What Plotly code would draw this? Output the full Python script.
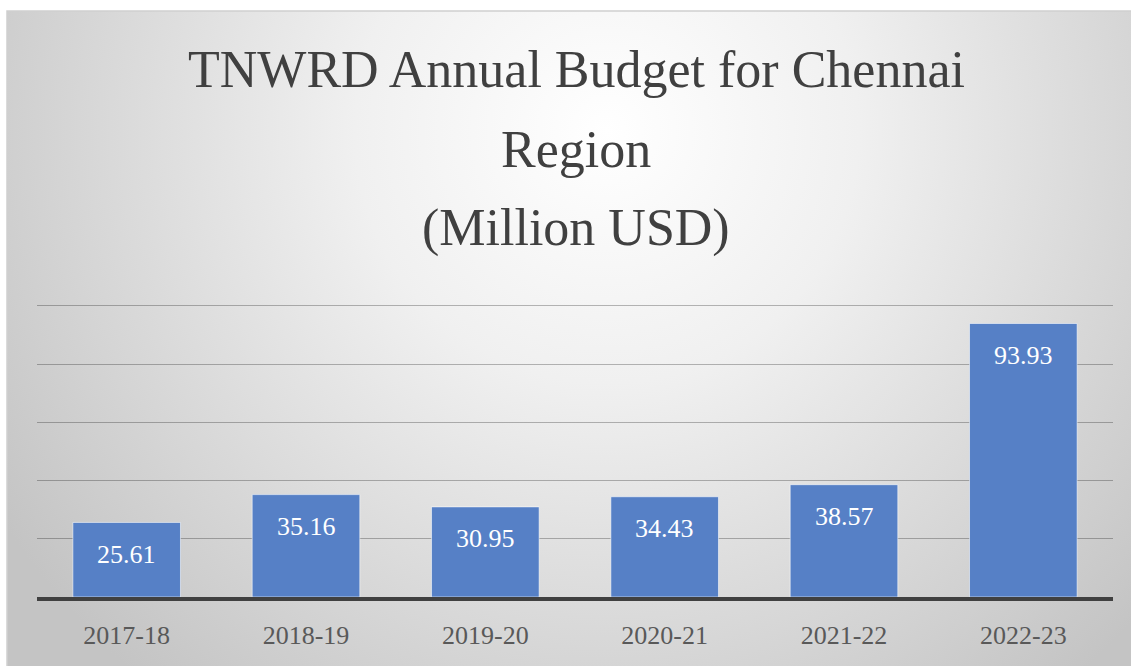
import base64
import plotly.graph_objects as go

# ---- data ----
years = ["2017-18", "2018-19", "2019-20", "2020-21", "2021-22", "2022-23"]
budget_musd = [25.61, 35.16, 30.95, 34.43, 38.57, 93.93]
title_lines = ["TNWRD Annual Budget for Chennai", "Region", "(Million USD)"]

# ---- layout geometry (pixels) ----
W, H = 1131, 666
L, R, T, B = 37, 18, 300, 69
pw, ph = W - L - R, H - T - B
YMAX = 102


def px_y(py):
    return (H - B - py) / ph


def px_x(px):
    return (px - L) / pw


# radial gradient background for the chart box
box_x0, box_y0 = 7, 11
box_w, box_h = W - box_x0, H - box_y0
svg = (
    f"<svg xmlns='http://www.w3.org/2000/svg' width='{box_w}' height='{box_h}'>"
    "<defs><radialGradient id='g' gradientUnits='userSpaceOnUse' "
    "cx='600' cy='120' r='720'>"
    "<stop offset='0' stop-color='#ffffff'/>"
    "<stop offset='0.35' stop-color='#f0f0f0'/>"
    "<stop offset='1' stop-color='#c4c4c4'/>"
    "</radialGradient></defs>"
    f"<rect x='0' y='0' width='{box_w}' height='{box_h}' fill='url(#g)'/>"
    "</svg>"
)
svg_uri = "data:image/svg+xml;base64," + base64.b64encode(svg.encode()).decode()

serif = "Liberation Serif"

fig = go.Figure()
fig.add_trace(
    go.Bar(
        x=years,
        y=budget_musd,
        marker=dict(color="#5680C6", line=dict(color="rgba(255,255,255,0.55)", width=1)),
        hoverinfo="x+y",
    )
)

annotations = []
# data labels (inside end)
for yr, v in zip(years, budget_musd):
    annotations.append(
        dict(
            x=yr, y=v, xref="x", yref="y",
            text=f"{v:.2f}", showarrow=False,
            yanchor="middle", yshift=-32,
            font=dict(family=serif, size=26, color="white"),
        )
    )
# title lines
title_y_px = [69, 149, 228]
for txt, py in zip(title_lines, title_y_px):
    annotations.append(
        dict(
            x=px_x(576), y=px_y(py), xref="paper", yref="paper",
            text=txt, showarrow=False, xanchor="center", yanchor="middle",
            font=dict(family=serif, size=52, color="#404040"),
        )
    )

fig.update_layout(
    width=W, height=H,
    margin=dict(l=L, r=R, t=T, b=B, autoexpand=False),
    paper_bgcolor="white",
    plot_bgcolor="rgba(0,0,0,0)",
    bargap=0.4,
    showlegend=False,
    annotations=annotations,
    images=[
        dict(
            source=svg_uri, xref="paper", yref="paper",
            x=px_x(box_x0), y=px_y(box_y0),
            sizex=box_w / pw, sizey=box_h / ph,
            xanchor="left", yanchor="top", sizing="stretch", layer="below",
        )
    ],
    shapes=[
        dict(
            type="rect", xref="paper", yref="paper",
            x0=px_x(box_x0), x1=px_x(W + 5), y0=px_y(box_y0), y1=px_y(H + 5),
            line=dict(color="#cfcfcf", width=1.5), fillcolor="rgba(0,0,0,0)",
            layer="below",
        )
    ],
    xaxis=dict(
        showline=True, linecolor="#404040", linewidth=4,
        showgrid=False, ticks="", ticklabelstandoff=12,
        tickfont=dict(family=serif, size=26, color="#595959"),
        fixedrange=True,
    ),
    yaxis=dict(
        range=[0, YMAX], tickvals=[0, 20, 40, 60, 80, 100], showticklabels=False,
        showgrid=True, gridcolor="rgba(0,0,0,0.27)", gridwidth=1.2,
        zeroline=False, fixedrange=True,
    ),
)

fig.write_html(
    "out.html",
    config={"displayModeBar": False},
    post_script="document.body.style.margin='0';document.body.style.overflow='hidden';",
)
